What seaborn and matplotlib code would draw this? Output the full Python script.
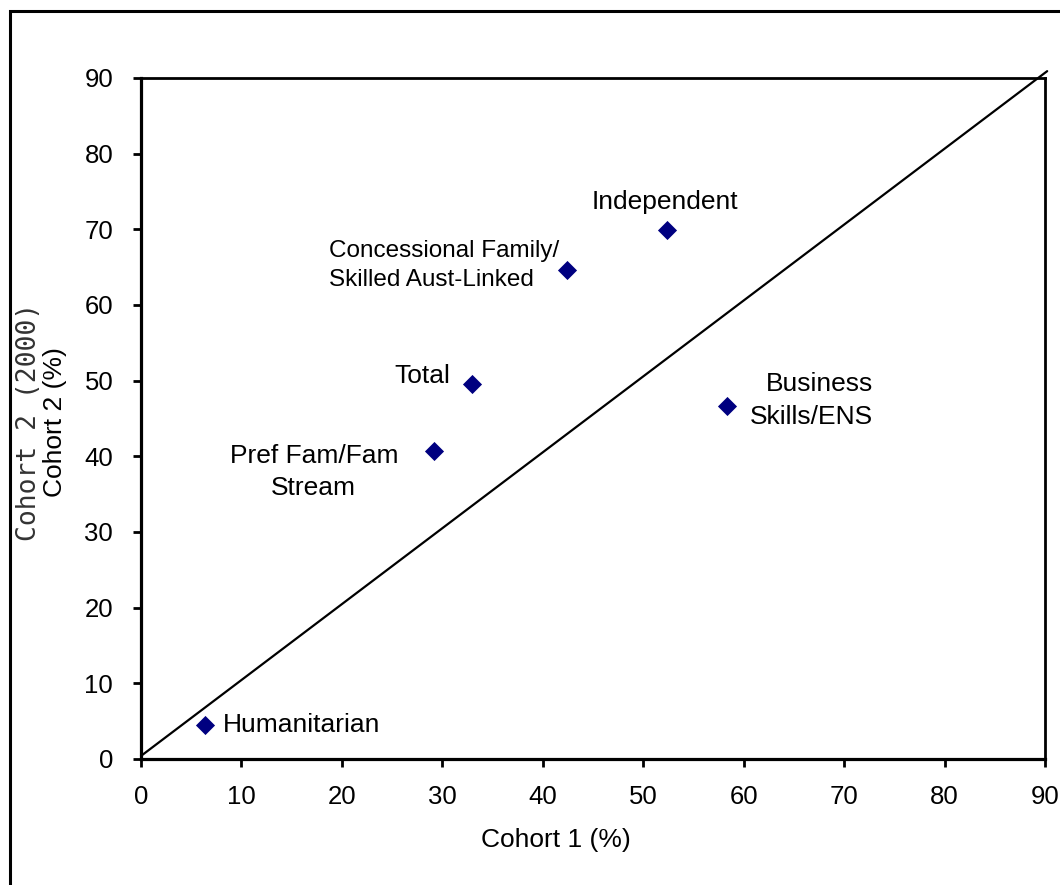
import numpy as np
import pandas as pd
import matplotlib
matplotlib.use("Agg")
import matplotlib.pyplot as plt
import seaborn as sns

# visa categories, cohort 1 vs cohort 2 (%)
categories = ["Humanitarian", "Pref Fam/Fam\nStream", "Total",
              "Concessional Family/\nSkilled Aust-Linked", "Independent",
              "Business\nSkills/ENS"]
cohort1 = [6.4, 29.2, 32.9, 42.4, 52.4, 58.3]
cohort2 = [4.5, 40.7, 49.5, 64.6, 69.9, 46.6]
ticks = [0, 10, 20, 30, 40, 50, 60, 70, 80, 90]
diag_x = [0, 90.2]
diag_y = [0.4, 90.9]

# label placement (data coords, alignment, size)
label_pos = [(8.2, 4.5, "left", "left", 19),
             (17.2, 37.9, "center", "center", 19),
             (30.8, 50.6, "right", "center", 19),
             (18.7, 65.2, "left", "left", 17.5),
             (52.2, 73.6, "center", "center", 19),
             (72.9, 47.4, "right", "right", 19)]

df = pd.DataFrame({"cat": categories, "c1": cohort1, "c2": cohort2})

sns.set_theme(style="white")
plt.rcParams["font.family"] = ["Liberation Sans", "DejaVu Sans"]
plt.rcParams["axes.edgecolor"] = "black"
plt.rcParams["axes.labelcolor"] = "black"
plt.rcParams["xtick.color"] = "black"
plt.rcParams["ytick.color"] = "black"
plt.rcParams["text.color"] = "black"

fig = plt.figure(figsize=(10.6, 8.85), dpi=100)
ax = fig.add_axes([0.133, 0.1424, 0.853, 0.7695])

ax.plot(diag_x, diag_y, color="black", lw=1.6, clip_on=False, zorder=1)
sns.scatterplot(data=df, x="c1", y="c2", marker="D", s=95, color="#000080",
                edgecolor="#000080", linewidth=0, ax=ax, zorder=3, clip_on=False)

for (x, y, ha, ma, fs), name in zip(label_pos, categories):
    ax.text(x, y, name, ha=ha, va="center", multialignment=ma,
            fontsize=fs, linespacing=1.45)

ax.set_xlim(0, 90)
ax.set_ylim(0, 90)
ax.set_xticks(ticks)
ax.set_yticks(ticks)
ax.tick_params(axis="both", direction="out", length=6, width=2, labelsize=18.5,
               left=True, bottom=True)
ax.tick_params(axis="y", pad=14)
ax.tick_params(axis="x", pad=13)
for side in ["left", "bottom"]:
    ax.spines[side].set_linewidth(2.3)
for side in ["top", "right"]:
    ax.spines[side].set_linewidth(2)

ax.set_xlabel("Cohort 1 (%)", fontsize=19)
ax.xaxis.set_label_coords(0.459, -0.119)
ax.xaxis.label.set_va("center")
ax.set_ylabel("")

# two overlapping y labels, as in the source
fig.text(0.027, 0.523, "Cohort 2 (2000)", rotation=90, ha="center", va="center",
         fontsize=19, family="DejaVu Sans Mono", color="#333333")
fig.text(0.052, 0.523, "Cohort 2 (%)", rotation=90, ha="center", va="center",
         fontsize=19)

# outer frame (partly cut off)
frame = plt.Rectangle((0.0094, -0.2), 1.2, 0.2 + 0.9876, transform=fig.transFigure,
                      fill=False, lw=2.2, edgecolor="black", clip_on=False)
fig.patches.append(frame)

fig.savefig("out.png", dpi=100)
